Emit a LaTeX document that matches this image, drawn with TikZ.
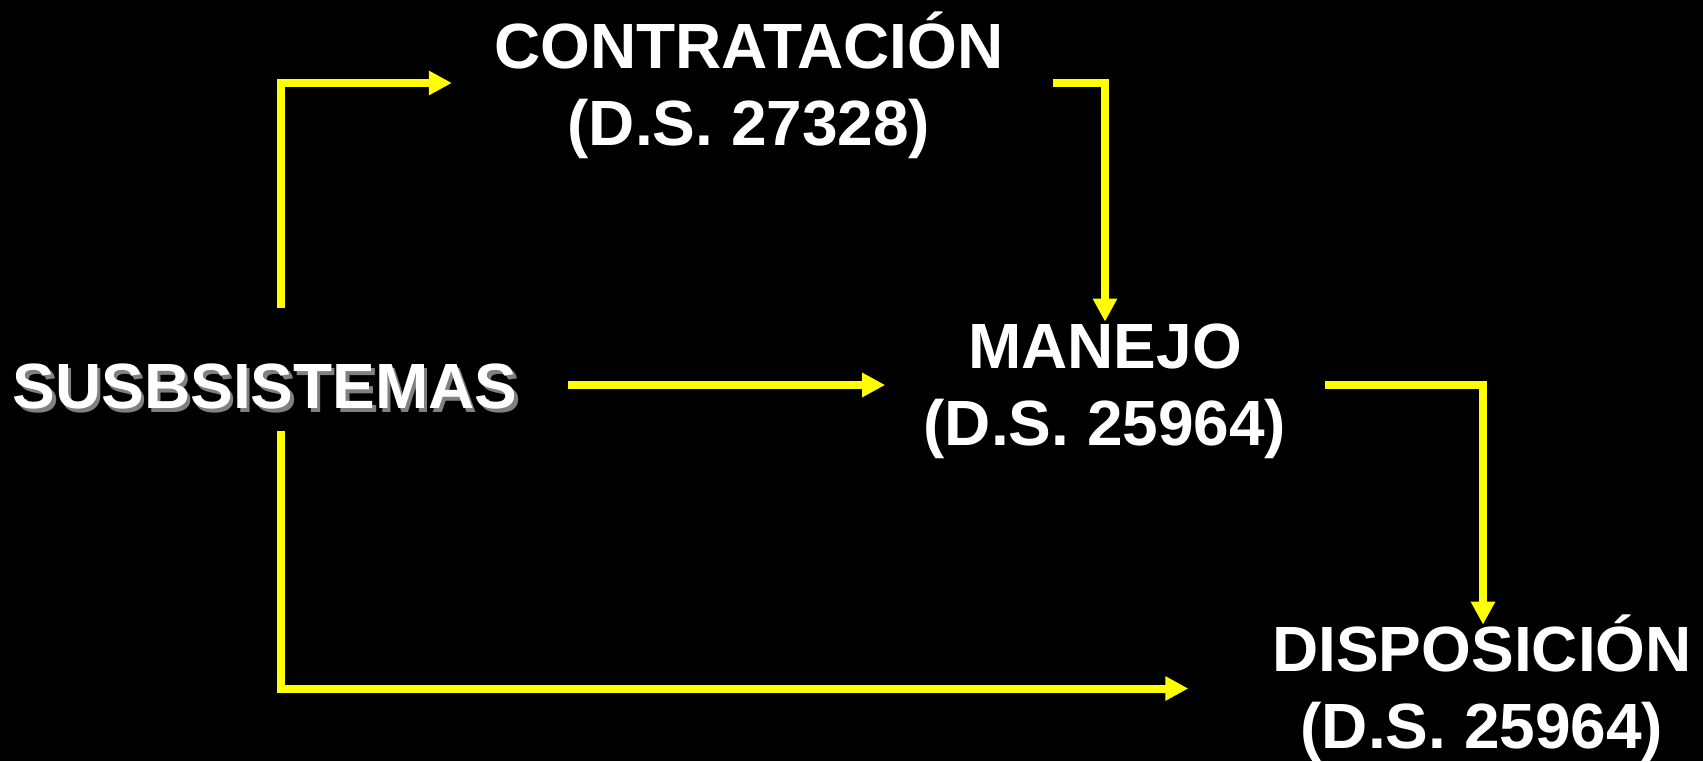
\documentclass[tikz,border=0pt]{standalone}
\usepackage{fontspec}
\setmainfont{Liberation Sans}
\usepackage{xcolor}
\usetikzlibrary{arrows.meta}
\definecolor{arrowyellow}{RGB}{255, 255, 0}
\definecolor{shadowgray}{RGB}{128, 128, 128}

\begin{document}
\begin{tikzpicture}[
  label/.style={inner sep=0pt, outer sep=0pt, align=center, text=white, font=\fontsize{36.4}{43.7}\selectfont\bfseries},
  flow/.style={arrowyellow, line width=0.16cm, -{Triangle[length=0.46cm, width=0.46cm]}}
]
\fill[black] (0,0) rectangle (34.06,-15.22);
\node[label, text=shadowgray] (subshadow) at (5.37,-7.80) {SUSBSISTEMAS};
\node[label] (sub) at (5.30,-7.73) {SUSBSISTEMAS};
\node[label] (contr) at (14.98,-1.71) {CONTRATACIÓN\\(D.S. 27328)};
\node[label] (manejo) at (22.10,-7.83) {MANEJO\\(D.S. 25964)};
\node[label] (disp) at (29.64,-13.77) {DISPOSICIÓN\\(D.S. 25964)};
\draw[flow] ([xshift=0.32cm, yshift=1.12cm]sub.north) |- ([xshift=-0.85cm, yshift=0.05cm]contr.west);
\draw[flow] ([xshift=0.98cm, yshift=0.05cm]contr.east) -| ([yshift=0.05cm]manejo.north);
\draw[flow] ([xshift=1.01cm, yshift=0.03cm]sub.east) -- ([xshift=-0.77cm, yshift=0.13cm]manejo.west);
\draw[flow] ([xshift=0.77cm, yshift=0.13cm]manejo.east) -| ([xshift=0.02cm, yshift=-0.19cm]disp.north);
\draw[flow] ([xshift=0.32cm, yshift=-0.43cm]sub.south) |- ([xshift=-1.68cm]disp.west);
\end{tikzpicture}
\end{document}
